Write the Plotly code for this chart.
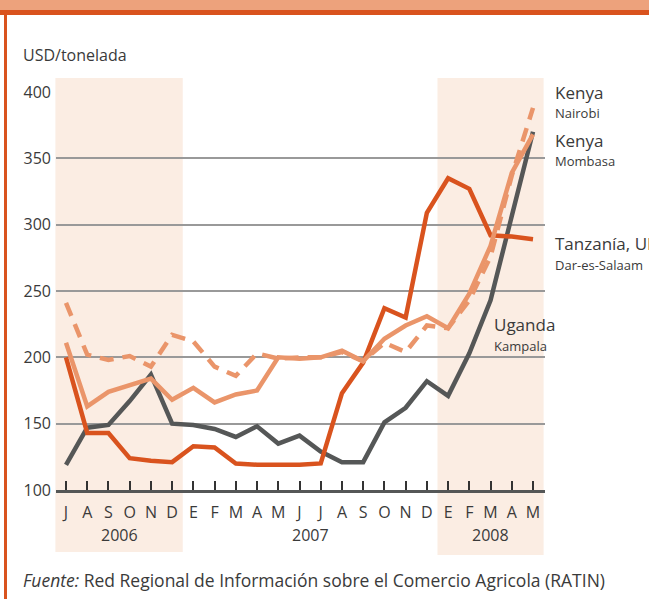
import plotly.graph_objects as go

months = ["J", "A", "S", "O", "N", "D",
          "E", "F", "M", "A", "M", "J", "J", "A", "S", "O", "N", "D",
          "E", "F", "M", "A", "M"]
years = ["2006", "2007", "2008"]

uganda = [119, 147, 149, 167, 187, 150, 149, 146, 140, 148, 135, 141, 129, 121, 121,
          151, 162, 182, 171, 203, 243, 306, 370]
tanzania = [200, 143, 143, 124, 122, 121, 133, 132, 120, 119, 119, 119, 120, 173, 196,
            237, 230, 309, 335, 327, 292, 291, 289]
mombasa = [211, 163, 174, 179, 184, 168, 177, 166, 172, 175, 200, 199, 200, 205, 197,
           214, 224, 231, 222, 248, 284, 339, 368]
nairobi = [241, 202, 198, 201, 193, 217, 212, 193, 186, 203, 199, 200, 200, 204, 197,
           211, 204, 224, 222, 243, 276, 337, 388]

x = list(range(len(months)))

W, H = 649, 599
L, R, T, B = 56, 104, 92, 109
pw, ph = W - L - R, H - T - B
xmin, xmax = -0.471, 22.565


def px(p):
    return (p - L) / pw


def py(p):
    return (H - B - p) / ph


def dx(v):
    return (v - xmin) / (xmax - xmin)


DARK = "#555757"
RED = "#d9531e"
LIGHT = "#ea956a"
TXT = "#3a3a3a"
BAND = "#fbede3"
FONT = "Open Sans"

fig = go.Figure()
fig.add_trace(go.Scatter(x=x, y=uganda, mode="lines", line=dict(color=DARK, width=4.5)))
fig.add_trace(go.Scatter(x=x, y=tanzania, mode="lines", line=dict(color=RED, width=4.5)))
fig.add_trace(go.Scatter(x=x, y=mombasa, mode="lines", line=dict(color=LIGHT, width=4.5)))
fig.add_trace(go.Scatter(x=x, y=nairobi, mode="lines",
                         line=dict(color=LIGHT, width=4.5, dash="14px,9px")))

shapes = [
    # shaded year bands
    dict(type="rect", xref="paper", yref="paper", x0=dx(-0.5), x1=dx(5.5),
         y0=py(552), y1=py(78), fillcolor=BAND, line_width=0, layer="below"),
    dict(type="rect", xref="paper", yref="paper", x0=dx(17.5), x1=dx(22.5),
         y0=py(555), y1=py(78), fillcolor=BAND, line_width=0, layer="below"),
    # top decorative bands
    dict(type="rect", xref="paper", yref="paper", x0=px(0), x1=px(W),
         y0=py(10), y1=py(-2), fillcolor="#eda27c", line_width=0),
    dict(type="rect", xref="paper", yref="paper", x0=px(0), x1=px(W),
         y0=py(15), y1=py(10), fillcolor=RED, line_width=0),
    # left border
    dict(type="rect", xref="paper", yref="paper", x0=px(4), x1=px(7),
         y0=py(H + 2), y1=py(10), fillcolor=RED, line_width=0),
]

ann = [
    dict(text="USD/tonelada", x=px(21), y=py(55), xanchor="left", yanchor="middle",
         font=dict(size=16, color=TXT)),
    dict(text="<i>Fuente:</i> Red Regional de Información sobre el Comercio Agricola (RATIN)",
         x=px(21), y=py(580), xanchor="left", yanchor="middle", font=dict(size=17.5, color=TXT)),
]
for i, yr in enumerate(years):
    xc = [2.5, 11.5, 20][i]
    ann.append(dict(text=yr, x=dx(xc), y=py(535), xanchor="center", yanchor="middle",
                    font=dict(size=16, color=TXT)))

labels = [
    ("Kenya", 553, 93, 17), ("Nairobi", 553, 113, 13),
    ("Kenya", 553, 140, 17), ("Mombasa", 553, 161, 13),
    ("Tanzanía, UR", 553, 243, 17), ("Dar-es-Salaam", 553, 265, 13),
    ("Uganda", 492, 324, 17), ("Kampala", 492, 346, 13),
]
for t, xx, yy, s in labels:
    ann.append(dict(text=t, x=px(xx), y=py(yy), xanchor="left", yanchor="middle",
                    font=dict(size=s, color=TXT)))

for a in ann:
    a.update(xref="paper", yref="paper", showarrow=False)

fig.update_layout(
    width=W, height=H,
    margin=dict(l=L, r=R, t=T, b=B),
    paper_bgcolor="white", plot_bgcolor="rgba(0,0,0,0)",
    showlegend=False,
    font=dict(family=FONT, color=TXT),
    shapes=shapes, annotations=ann,
    xaxis=dict(range=[xmin, xmax], tickmode="array", tickvals=x, ticktext=months,
               ticks="inside", ticklen=9, tickwidth=2, tickcolor="#333",
               showgrid=False, zeroline=False, showline=True, linecolor=DARK, linewidth=3,
               tickfont=dict(size=16, color=TXT), ticklabelstandoff=6, fixedrange=True),
    yaxis=dict(range=[100, 400], tickvals=[100, 150, 200, 250, 300, 350, 400],
               showgrid=True, gridcolor="#999999", gridwidth=1.5, zeroline=False,
               showline=False, ticks="", tickfont=dict(size=16, color=TXT),
               ticklabelstandoff=4, fixedrange=True),
)

fig.write_html("out.html", config={"displayModeBar": False},
               post_script="document.body.style.margin='0';document.body.style.overflow='hidden';")
